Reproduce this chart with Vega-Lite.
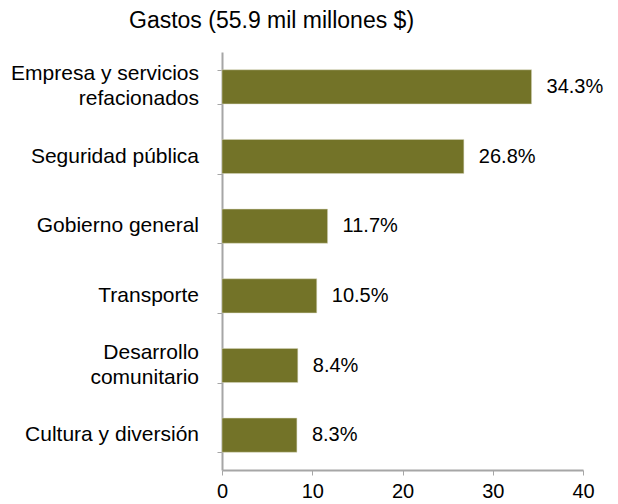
{
  "$schema": "https://vega.github.io/schema/vega-lite/v6.json",
  "autosize": {"type": "none"},
  "padding": {"left": 222, "top": 52, "right": 35, "bottom": 34},
  "width": 361,
  "height": 418,
  "background": "white",
  "title": {
    "text": "Gastos (55.9 mil millones $)",
    "anchor": "start",
    "frame": "group",
    "dx": -93,
    "offset": 19,
    "font": "Liberation Sans",
    "fontSize": 23,
    "fontWeight": "normal",
    "color": "#000000"
  },
  "config": {
    "view": {"stroke": null},
    "axis": {"grid": false, "domainColor": "#a6a6a6", "tickColor": "#a6a6a6", "labelFont": "Liberation Sans", "labelColor": "#000000"}
  },
  "data": {
    "values": [
      {"cat": "Empresa y servicios|refacionados", "val": 34.3, "lbl": "34.3%", "lines": 2},
      {"cat": "Seguridad pública", "val": 26.8, "lbl": "26.8%", "lines": 1},
      {"cat": "Gobierno general", "val": 11.7, "lbl": "11.7%", "lines": 1},
      {"cat": "Transporte", "val": 10.5, "lbl": "10.5%", "lines": 1},
      {"cat": "Desarrollo|comunitario", "val": 8.4, "lbl": "8.4%", "lines": 2},
      {"cat": "Cultura y diversión", "val": 8.3, "lbl": "8.3%", "lines": 1}
    ]
  },
  "encoding": {
    "y": {
      "field": "cat", "type": "nominal", "sort": null, "title": null,
      "scale": {"paddingInner": 0.51, "paddingOuter": 0.255},
      "axis": {
        "labels": false,
        "tickSize": 5,
        "tickBand": "extent",
        "domainWidth": 2
      }
    }
  },
  "layer": [
    {"mark": {"type": "bar", "color": "#737328", "stroke": "#d9d9c0", "strokeWidth": 0.5},
     "encoding": {
       "x": {
         "field": "val", "type": "quantitative", "title": null,
         "scale": {"domain": [0, 40], "nice": false},
         "axis": {"values": [0, 10, 20, 30, 40], "labelFontSize": 20, "labelPadding": 6, "tickSize": 5, "domainWidth": 2, "labelFlush": false}
       }
     }},
    {"mark": {"type": "text", "align": "left", "dx": 15, "fontSize": 20, "font": "Liberation Sans", "color": "#000000"},
     "encoding": {"x": {"field": "val", "type": "quantitative"}, "text": {"field": "lbl"}}},
    {"transform": [{"filter": "datum.lines == 1"}],
     "mark": {"type": "text", "align": "right", "baseline": "middle", "dx": -23, "fontSize": 21, "font": "Liberation Sans", "color": "#000000"},
     "encoding": {"x": {"datum": 0, "type": "quantitative"}, "text": {"field": "cat"}}},
    {"transform": [{"filter": "datum.lines == 2"}],
     "mark": {"type": "text", "align": "right", "baseline": "middle", "dx": -23, "dy": -12.5, "fontSize": 21, "lineHeight": 25, "lineBreak": "|", "font": "Liberation Sans", "color": "#000000"},
     "encoding": {"x": {"datum": 0, "type": "quantitative"}, "text": {"field": "cat"}}}
  ]
}
